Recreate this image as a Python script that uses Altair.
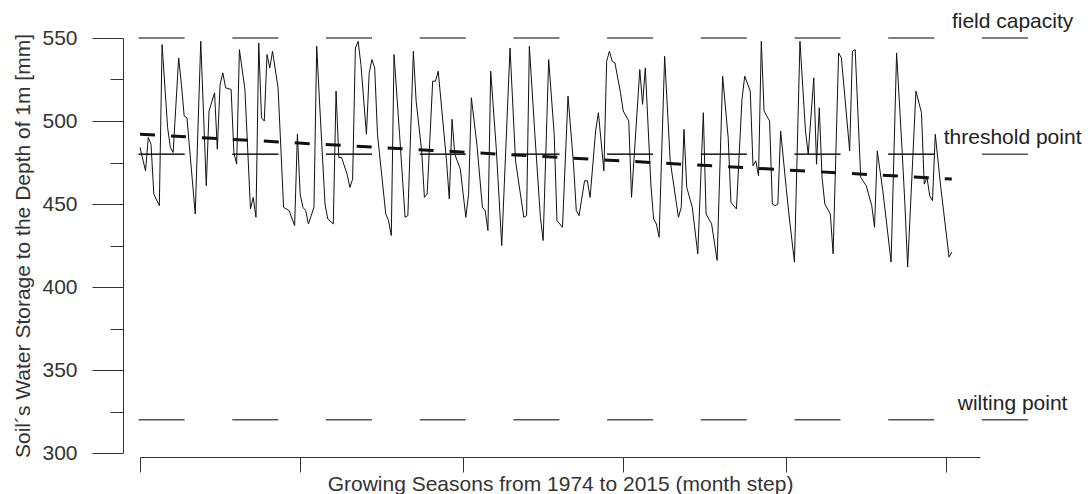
import altair as alt
import pandas as pd

# ---- data ----
month = [0, 2, 3, 4, 5, 7, 8, 10, 11, 12,
         14, 15, 16, 17, 20, 22, 24, 25, 27, 28,
         29, 30, 31, 33, 34, 35, 36, 38, 40, 41,
         42, 43, 44, 45, 46, 47, 48, 50, 52, 54,
         56, 57, 58, 59, 60, 61, 63, 64, 65, 67,
         68, 70, 71, 72, 73, 75, 76, 77, 78, 79,
         80, 82, 83, 84, 85, 86, 89, 90, 91, 92,
         94, 96, 97, 99, 100, 102, 103, 104, 106, 107,
         108, 109, 111, 112, 113, 114, 116, 118, 119, 120,
         122, 124, 125, 126, 127, 129, 131, 134, 136, 139,
         140, 141, 143, 145, 146, 148, 150, 151, 153, 155,
         157, 158, 159, 161, 162, 163, 165, 166, 168, 169,
         170, 171, 172, 174, 175, 177, 178, 181, 182, 183,
         185, 186, 187, 188, 190, 192, 195, 196, 197, 198,
         200, 202, 204, 205, 207, 209, 211, 213, 214, 216,
         218, 219, 221, 222, 223, 224, 225, 226, 228, 229,
         230, 231, 232, 234, 235, 237, 239, 241, 242, 244,
         245, 246, 247, 248, 250, 251, 253, 254, 257, 258,
         259, 261, 263, 265, 266, 267, 269, 270, 272, 274,
         276, 277, 278, 281, 283, 284, 285, 286, 287, 288,
         290, 293, 294]
storage = [484, 470, 490, 486, 456, 449, 546, 496, 484, 481,
           538, 522, 503, 502, 444, 548, 461, 506, 517, 483,
           522, 529, 520, 519, 481, 474, 543, 519, 447, 454,
           442, 547, 502, 500, 540, 532, 542, 520, 448, 446,
           437, 492, 456, 448, 446, 438, 448, 545, 512, 450,
           441, 438, 518, 478, 478, 468, 460, 465, 544, 548,
           534, 492, 529, 537, 532, 492, 444, 440, 431, 540,
           492, 442, 443, 542, 512, 482, 454, 456, 524, 524,
           530, 512, 476, 453, 501, 480, 471, 442, 456, 514,
           486, 448, 446, 434, 530, 484, 425, 544, 476, 442,
           443, 545, 492, 442, 428, 537, 492, 440, 436, 515,
           474, 446, 443, 464, 464, 454, 494, 505, 470, 536,
           542, 536, 535, 517, 506, 500, 454, 531, 510, 532,
           462, 441, 438, 430, 539, 476, 442, 448, 495, 460,
           448, 420, 505, 444, 438, 416, 527, 490, 451, 447,
           513, 527, 518, 473, 476, 467, 548, 506, 500, 450,
           449, 450, 494, 460, 444, 415, 548, 494, 480, 526,
           474, 508, 466, 450, 444, 420, 541, 538, 482, 542,
           543, 466, 461, 449, 436, 482, 458, 444, 415, 541,
           482, 450, 412, 518, 505, 462, 466, 455, 452, 492,
           460, 418, 421]
assert len(month) == len(storage)

trend_month = [0, 294]
trend_value = [492, 465]

ref_names = ["field capacity", "threshold point", "wilting point"]
ref_values = [550, 480, 320]

x_ticks = [0, 58, 117, 175, 234, 292]
y_major = [300, 350, 400, 450, 500, 550]
y_minor = [325, 375, 425, 475, 525]

FONT = "Liberation Sans"
FS = 21

series = pd.DataFrame({"month": month, "storage": storage})
trend = pd.DataFrame({"month": trend_month, "trend": trend_value})
refs = pd.DataFrame({"name": ref_names, "value": ref_values})
thr = refs[refs["name"] == "threshold point"]

x_scale = alt.Scale(domain=[0, 304.2], nice=False, zero=False)
y_scale = alt.Scale(domain=[300, 550], nice=False, zero=False)

main_y_axis = alt.Axis(
    values=y_major, orient="left", offset=17, tickSize=31, labelPadding=15,
    labelFont=FONT, labelFontSize=FS, labelColor="#333",
    domainColor="#333", tickColor="#333", grid=False,
    title="Soil´s Water Storage to the Depth of 1m [mm]",
    titleFont=FONT, titleFontSize=FS, titleFontWeight="normal",
    titleColor="#333", titlePadding=8,
)
minor_y_axis = alt.Axis(
    values=y_minor, orient="left", offset=17, tickSize=13, labels=False,
    domain=False, tickColor="#333", grid=False, title=None,
)
x_axis = alt.Axis(
    values=x_ticks, labels=False, tickSize=15, offset=4, grid=False,
    domainColor="#333", tickColor="#333",
    title="Growing Seasons from 1974 to 2015 (month step)",
    titleFont=FONT, titleFontSize=FS, titleFontWeight="normal",
    titleColor="#333", titlePadding=1,
)

ref_lines = alt.Chart(refs).mark_rule(
    color="#555", strokeWidth=1.5, strokeDash=[46, 47.7]
).encode(
    x=alt.XDatum(-0.5, scale=x_scale, axis=x_axis),
    x2=alt.X2Datum(321.6),
    y=alt.Y("value:Q", scale=y_scale, axis=None),
)

thr_line = alt.Chart(thr).mark_rule(
    color="#111", strokeWidth=1, strokeDash=[46, 47.7]
).encode(
    x=alt.XDatum(-0.5, scale=x_scale, axis=x_axis),
    x2=alt.X2Datum(294),
    y=alt.Y("value:Q", scale=y_scale, axis=None),
)

line = alt.Chart(series).mark_line(color="#111", strokeWidth=1).encode(
    x=alt.X("month:Q", scale=x_scale, axis=x_axis),
    y=alt.Y("storage:Q", scale=y_scale, axis=main_y_axis),
)

trend_line = alt.Chart(trend).mark_line(
    color="#111", strokeWidth=3, strokeDash=[15, 16]
).encode(
    x=alt.X("month:Q", scale=x_scale, axis=x_axis),
    y=alt.Y("trend:Q", scale=y_scale, axis=minor_y_axis),
)

labels = alt.Chart(refs).mark_text(
    align="center", baseline="alphabetic", dy=-10,
    font=FONT, fontSize=FS, color="#222"
).encode(
    x=alt.XDatum(316, scale=x_scale, axis=x_axis),
    y=alt.Y("value:Q", scale=y_scale, axis=None),
    text="name:N",
)

chart = alt.layer(ref_lines, thr_line, line, trend_line, labels).resolve_scale(
    y="independent"
).properties(
    width=840, height=415,
    padding={"left": 140, "top": 38, "right": 112, "bottom": 41},
    autosize=alt.AutoSizeParams(type="none"),
    background="white",
).configure_view(strokeWidth=0)

chart.save("out.html", embed_options={"renderer": "svg", "actions": False})
